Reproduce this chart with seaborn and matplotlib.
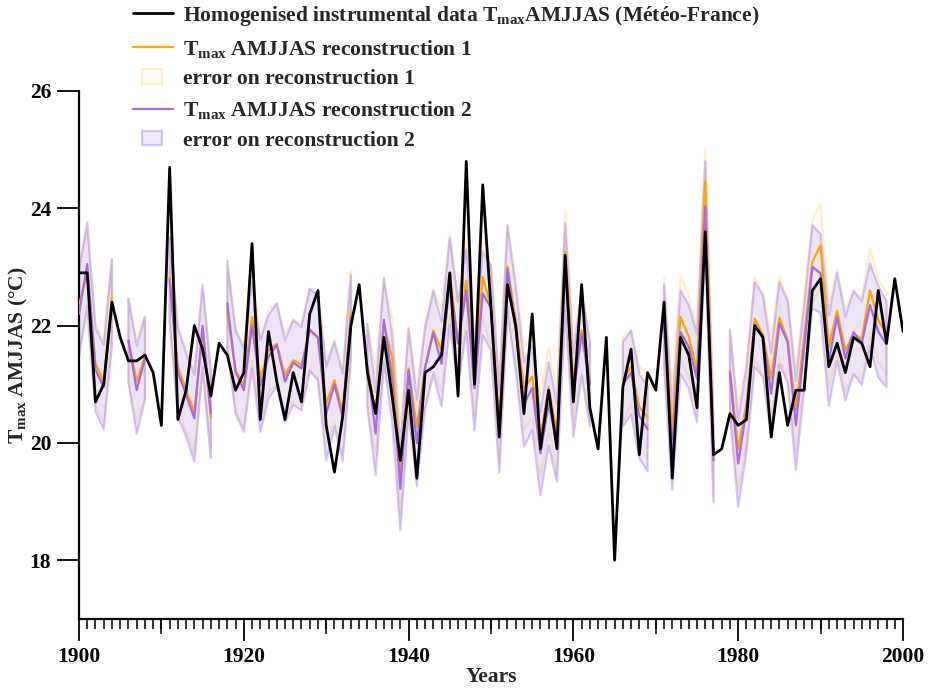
import numpy as np
import pandas as pd
import seaborn as sns
import matplotlib
matplotlib.use("Agg")
import matplotlib.pyplot as plt
from matplotlib.lines import Line2D
from matplotlib.patches import Patch, Rectangle
from matplotlib.legend_handler import HandlerPatch
from matplotlib.ticker import MultipleLocator

nan = np.nan

# ---------------- data ----------------
years = list(range(1900, 2001))

# homogenised instrumental Tmax AMJJAS (Meteo-France)
obs = [22.9, 22.9, 20.7, 21.0, 22.4, 21.8, 21.4, 21.4, 21.5, 21.2,   # 1900s
       20.3, 24.7, 20.4, 20.9, 22.0, 21.6, 20.8, 21.7, 21.5, 20.9,   # 1910s
       21.2, 23.4, 20.4, 21.9, 21.05, 20.4, 21.2, 20.7, 22.2, 22.6,  # 1920s
       20.3, 19.5, 20.45, 22.0, 22.7, 21.2, 20.5, 21.8, 20.8, 19.7,  # 1930s
       20.9, 19.4, 21.2, 21.3, 21.5, 22.9, 20.8, 24.8, 21.0, 24.4,   # 1940s
       22.3, 20.1, 22.7, 22.0, 20.5, 22.2, 19.9, 20.9, 19.9, 23.2,   # 1950s
       20.7, 22.7, 20.6, 19.9, 21.8, 18.0, 20.95, 21.6, 19.8, 21.2,  # 1960s
       20.9, 22.4, 19.4, 21.8, 21.5, 20.6, 23.6, 19.8, 19.9, 20.5,   # 1970s
       20.3, 20.4, 22.0, 21.8, 20.1, 21.2, 20.3, 20.9, 20.9, 22.6,   # 1980s
       22.8, 21.3, 21.7, 21.2, 21.8, 21.7, 21.3, 22.6, 21.7, 22.8,   # 1990s
       21.9]                                                          # 2000

# reconstruction 1 (orange)
rec1 = [22.35, 22.9, 21.35, 21.05, 22.5, nan, 21.75, 21.05, 21.47, nan,
        nan, 22.82, 21.3, 20.9, 20.53, 21.9, 20.44, nan, 22.23, 21.24,
        20.98, 22.15, 21.1, 21.58, 21.69, 21.15, 21.41, 21.33, 21.93, 21.81,
        20.67, 21.07, 20.53, 22.23, nan, 21.33, 20.5, 22.04, 21.45, 19.5,
        21.27, 20.27, 21.3, 21.92, 21.58, 22.89, 21.69, 22.77, 21.18, 22.83,
        22.32, 20.35, 23.01, 22.09, 20.93, 21.13, 20.1, 20.95, 20.16, 23.26,
        21.07, 21.92, 21.07, nan, nan, nan, 21.07, 21.3, 20.61, 20.44,
        nan, 22.1, 20.2, 22.15, 21.81, 21.24, 24.45, 19.8, nan, 21.24,
        19.9, 20.67, 22.12, 21.84, 21.1, 22.14, 21.75, 20.56, 21.8, 23.09,
        23.37, 21.64, 22.26, 21.58, 21.86, 21.78, 22.6, 22.09, 21.86, nan,
        nan]

# reconstruction 2 (purple)
rec2 = [22.2, 23.05, 21.25, 20.95, 22.4, nan, 21.75, 20.9, 21.44, nan,
        nan, 22.78, 21.2, 20.82, 20.42, 22.0, 20.5, nan, 22.38, 21.21,
        20.9, 22.0, 20.97, 21.47, 21.67, 21.05, 21.37, 21.27, 21.93, 21.79,
        20.5, 21.0, 20.44, 22.15, nan, 21.32, 20.16, 22.1, 21.1, 19.22,
        21.24, 20.0, 21.27, 21.88, 21.35, 22.75, 21.7, 22.6, 20.93, 22.55,
        22.3, 20.2, 22.97, 21.94, 20.66, 20.94, 19.82, 20.67, 20.0, 23.0,
        20.82, 21.86, 21.0, nan, nan, nan, 21.0, 21.2, 20.46, 20.24,
        nan, 22.0, 19.9, 21.89, 21.64, 21.1, 24.03, 19.7, nan, 21.2,
        19.65, 20.56, 22.02, 21.82, 20.84, 22.04, 21.72, 20.3, 21.62, 23.0,
        22.89, 21.4, 22.15, 21.44, 21.89, 21.7, 22.35, 21.9, 21.68, nan,
        nan]

# error half-widths
err1 = [0.7, 0.7, 0.7, 0.7, 0.65, nan, 0.7, 0.7, 0.7, nan,
        nan, 0.7, 0.7, 0.7, 0.7, 0.7, 0.7, nan, 0.7, 0.7,
        0.7, 0.74, 0.7, 0.7, 0.7, 0.7, 0.7, 0.7, 0.7, 0.7,
        0.7, 0.7, 0.7, 0.72, nan, 0.7, 0.7, 0.7, 0.7, 0.7,
        0.7, 0.7, 0.7, 0.7, 0.7, 0.7, 0.7, 0.69, 0.7, 0.68,
        0.7, 0.7, 0.7, 0.7, 0.7, 0.7, 0.7, 0.69, 0.7, 0.71,
        0.7, 0.7, 0.7, nan, nan, nan, 0.74, 0.62, 0.7, 0.7,
        nan, 0.7, 0.7, 0.71, 0.7, 0.7, 0.55, 0.7, nan, 0.7,
        0.7, 0.7, 0.7, 0.7, 0.7, 0.7, 0.7, 0.7, 0.7, 0.71,
        0.71, 0.7, 0.7, 0.7, 0.7, 0.7, 0.72, 0.7, 0.7, nan,
        nan]

err2 = [0.74, 0.71, 0.71, 0.72, 0.73, nan, 0.71, 0.75, 0.71, nan,
        nan, 0.72, 0.74, 0.71, 0.74, 0.7, 0.75, nan, 0.73, 0.71,
        0.71, 0.73, 0.78, 0.71, 0.71, 0.7, 0.72, 0.71, 0.7, 0.72,
        0.8, 0.72, 0.74, 0.71, nan, 0.71, 0.71, 0.72, 0.73, 0.71,
        0.71, 0.74, 0.69, 0.71, 0.72, 0.74, 0.71, 0.7, 0.71, 0.71,
        0.72, 0.7, 0.74, 0.71, 0.72, 0.72, 0.71, 0.71, 0.66, 0.74,
        0.71, 0.71, 0.72, nan, nan, nan, 0.72, 0.71, 0.72, 0.72,
        nan, 0.7, 0.7, 0.71, 0.71, 0.75, 0.77, 0.71, nan, 0.72,
        0.74, 0.72, 0.72, 0.7, 0.7, 0.7, 0.7, 0.75, 0.72, 0.71,
        0.67, 0.77, 0.75, 0.71, 0.71, 0.71, 0.71, 0.78, 0.73, nan,
        nan]

legend_labels = [
    r"Homogenised instrumental data T$_{\mathrm{max}}$AMJJAS (Météo-France)",
    r"T$_{\mathrm{max}}$ AMJJAS reconstruction 1",
    "error on reconstruction 1",
    r"T$_{\mathrm{max}}$ AMJJAS reconstruction 2",
    "error on reconstruction 2",
]
x_label = "Years"
y_label = r"T$_{\mathrm{max}}$ AMJJAS (°C)"
y_ticks = [18, 20, 22, 24, 26]
x_major = [1900, 1920, 1940, 1960, 1980, 2000]
x_mid = [1910, 1930, 1950, 1970, 1990]

# ---------------- style ----------------
sns.set_style("ticks")
plt.rcParams.update({
    "font.family": ["Liberation Serif", "DejaVu Serif"],
    "font.weight": "bold",
    "axes.labelweight": "bold",
    "mathtext.fontset": "custom",
    "mathtext.rm": "Liberation Serif:bold",
    "mathtext.bf": "Liberation Serif:bold",
    "mathtext.it": "Liberation Serif:bold",
    "axes.edgecolor": "black",
    "xtick.color": "black",
    "ytick.color": "black",
})

FS = 15.5
ORANGE = "#ffa500"
PURPLE = "#a66be3"
O_FACE = (1.0, 0.88, 0.62, 0.08)
O_EDGE = (1.0, 0.84, 0.50, 0.38)
P_FACE = (0.62, 0.50, 0.98, 0.18)
P_EDGE = (0.64, 0.48, 0.93, 0.42)

df = pd.DataFrame({"year": years, "obs": obs, "rec1": rec1, "rec2": rec2,
                   "err1": err1, "err2": err2})
df["seg"] = df["rec2"].isna().cumsum()
rec = df.dropna(subset=["rec2"])

fig = plt.figure(figsize=(9.32, 6.89), dpi=100)
ax = fig.add_axes([79 / 932, 1 - 619 / 689, (903 - 79) / 932, (619 - 91) / 689])

ax.fill_between(df["year"], df["rec1"] - df["err1"], df["rec1"] + df["err1"],
                facecolor=O_FACE, edgecolor=O_EDGE, lw=1.6, zorder=1)
ax.fill_between(df["year"], df["rec2"] - df["err2"], df["rec2"] + df["err2"],
                facecolor=P_FACE, edgecolor=P_EDGE, lw=1.6, zorder=2)

sns.lineplot(data=rec, x="year", y="rec1", units="seg", estimator=None,
             color=ORANGE, lw=1.6, ax=ax, zorder=3)
sns.lineplot(data=rec, x="year", y="rec2", units="seg", estimator=None,
             color=PURPLE, lw=1.6, ax=ax, zorder=4)
sns.lineplot(data=df, x="year", y="obs", color="black", lw=2.0, ax=ax, zorder=5)

ax.set_xlim(1900, 2000)
ax.set_ylim(17, 26)
ax.set_yticks(y_ticks)
ax.set_xticks(x_major)
ax.xaxis.set_minor_locator(MultipleLocator(1))
ax.tick_params(axis="x", which="major", length=16, width=1.3, pad=4, labelsize=FS)
ax.tick_params(axis="x", which="minor", length=7, width=1.1)
ax.tick_params(axis="y", which="major", length=16, width=1.3, pad=4, labelsize=FS)
for lab in ax.get_xticklabels() + ax.get_yticklabels():
    lab.set_fontweight("bold")

sec = ax.secondary_xaxis("bottom")
sec.set_xticks(x_mid)
sec.tick_params(axis="x", length=11, width=1.1, labelbottom=False)
sec.spines["bottom"].set_visible(False)

for s in ["top", "right"]:
    ax.spines[s].set_visible(False)
for s in ["left", "bottom"]:
    ax.spines[s].set_linewidth(1.6)

ax.set_xlabel(x_label, fontsize=FS, fontweight="bold", labelpad=0)
ax.set_ylabel(y_label, fontsize=FS, fontweight="bold", labelpad=0)

handles = [
    Line2D([], [], color="black", lw=2.0),
    Line2D([], [], color=ORANGE, lw=1.6),
    Patch(facecolor=O_FACE, edgecolor=O_EDGE, lw=1.6),
    Line2D([], [], color=PURPLE, lw=1.6),
    Patch(facecolor=P_FACE, edgecolor=P_EDGE, lw=1.6),
]


def small_rect(legend, orig_handle, xdescent, ydescent, width, height, fontsize):
    return Rectangle((width * 0.23 - xdescent, -ydescent + height * 0.05),
                     width * 0.5, height * 0.95)


leg = fig.legend(handles, legend_labels, loc="upper left",
                 bbox_to_anchor=(133 / 932, 1 - 4 / 689), frameon=False,
                 fontsize=FS, handlelength=1.85, handletextpad=0.45,
                 labelspacing=0.45, borderpad=0, borderaxespad=0,
                 handler_map={Patch: HandlerPatch(patch_func=small_rect)})
for t in leg.get_texts():
    t.set_fontweight("bold")

fig.savefig("out.png", dpi=100)
